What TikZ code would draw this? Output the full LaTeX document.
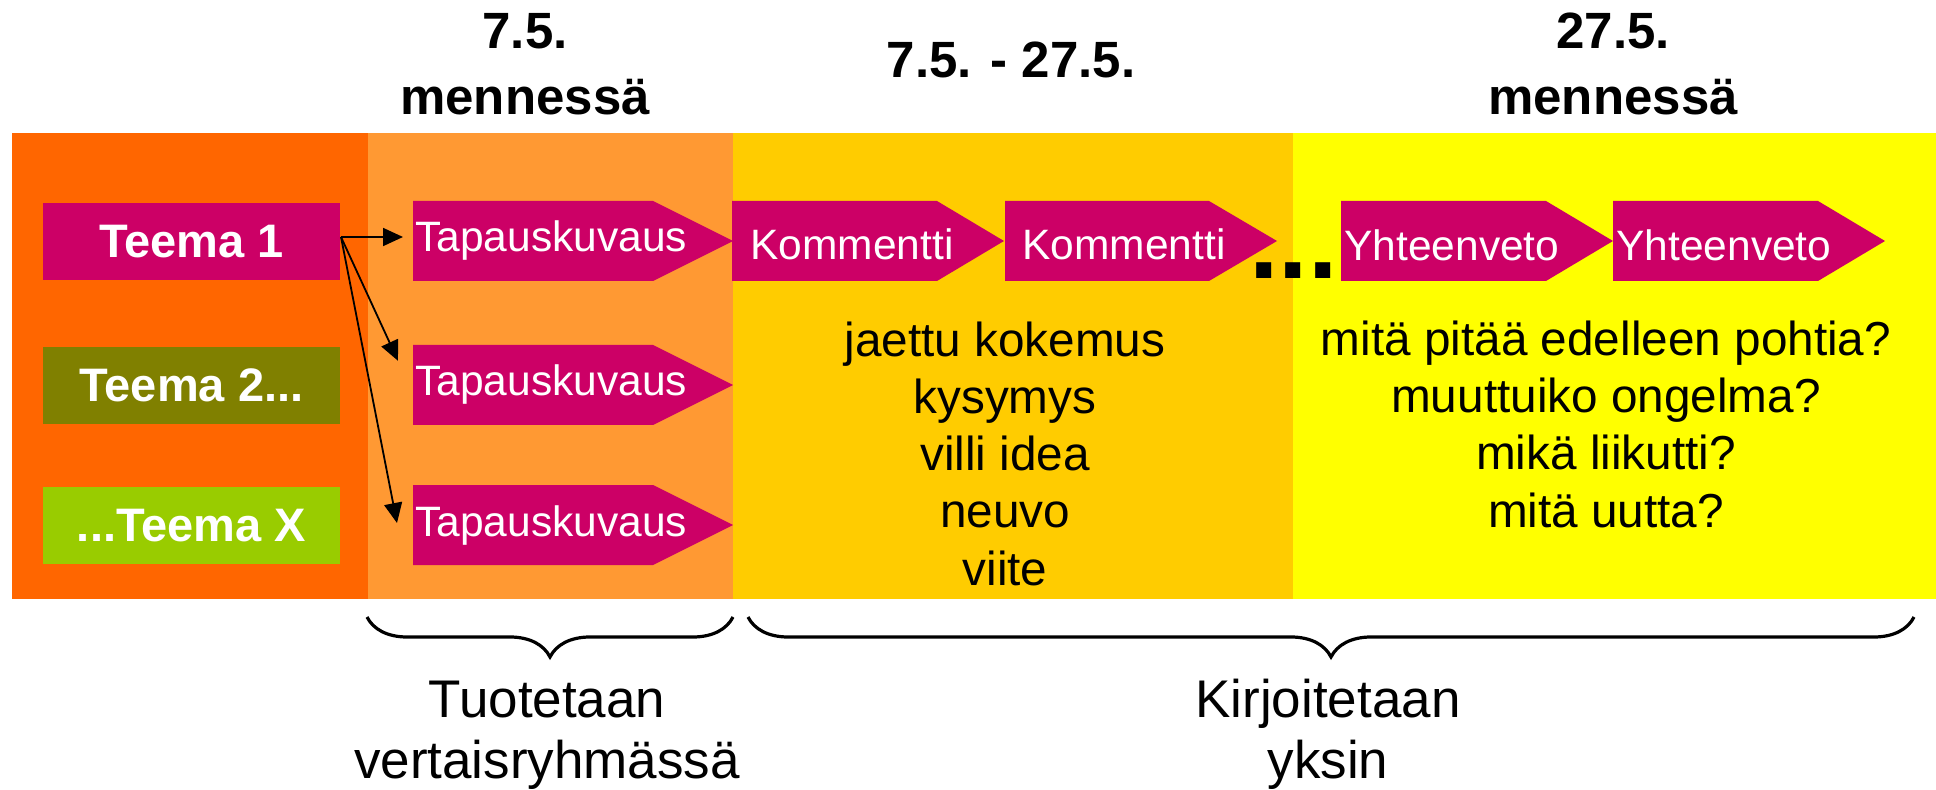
\documentclass[tikz,border=0pt]{standalone}
\usepackage{fontspec}
\setmainfont{Liberation Sans}
\usetikzlibrary{arrows.meta,calc,decorations.pathreplacing}

\definecolor{colA}{HTML}{FF6600}
\definecolor{colB}{HTML}{FF9933}
\definecolor{colC}{HTML}{FFCC00}
\definecolor{colD}{HTML}{FFFF00}
\definecolor{tagred}{HTML}{CC0066}
\definecolor{olivebox}{HTML}{808000}
\definecolor{limebox}{HTML}{99CC00}

\begin{document}
\begin{tikzpicture}[x=0.5pt,y=-0.5pt,
  >={Triangle[length=10pt,width=9pt]},
  teema/.style={minimum width=148.5pt,minimum height=38.5pt,inner sep=0,text=white,
    font=\fontsize{23.5}{28}\selectfont\bfseries},
  tag/.style={anchor=base west,inner sep=0,text=white,font=\fontsize{21.25}{25}\selectfont},
  head/.style={anchor=base,inner sep=0,align=center,font=\fontsize{25.5}{33}\selectfont\bfseries},
  body/.style={anchor=base,inner sep=0,align=center,font=\fontsize{23.85}{28.6}\selectfont},
  foot/.style={anchor=base,inner sep=0,align=center,font=\fontsize{26.5}{30.5}\selectfont},
  curly/.style={decorate,decoration={brace,mirror,amplitude=20pt},line width=1.6pt}]
\useasboundingbox (0,0) rectangle (1936,790);
\fill[white] (0,0) rectangle (1936,790);

% time columns
\fill[colA] (12,133) rectangle (368,599);
\fill[colB] (368,133) rectangle (733,599);
\fill[colC] (733,133) rectangle (1293,599);
\fill[colD] (1293,133) rectangle (1936,599);

% base = last line
\node[head] (h1) at (525,115) {7.5.\\mennessä};
\node[head] (h2) at (1011,78) {7.5. - 27.5.};
\node[head] (h3) at (1613,115) {27.5.\\mennessä};

\node[teema,fill=tagred] (t1) at (191.5,241.5) {Teema 1};
\node[teema,fill=olivebox] (t2) at (191.5,385.5) {Teema 2...};
\node[teema,fill=limebox] (tx) at (191.5,525.5) {...Teema X};

% arrow tags
\fill[tagred] (413,201) -- (653,201) -- (733,241) -- (653,281) -- (413,281) -- cycle;
\fill[tagred] (413,345) -- (653,345) -- (733,385) -- (653,425) -- (413,425) -- cycle;
\fill[tagred] (413,485) -- (653,485) -- (733,525) -- (653,565) -- (413,565) -- cycle;
\fill[tagred] (732,201) -- (937,201) -- (1004,241) -- (937,281) -- (732,281) -- cycle;
\fill[tagred] (1005,201) -- (1209,201) -- (1277,241) -- (1209,281) -- (1005,281) -- cycle;
\fill[tagred] (1341,201) -- (1546,201) -- (1613,241) -- (1546,281) -- (1341,281) -- cycle;
\fill[tagred] (1613,201) -- (1818,201) -- (1885,241) -- (1818,281) -- (1613,281) -- cycle;

\node[tag] (tap1) at (415,252) {Tapauskuvaus};
\node[tag] (tap2) at (415,396) {Tapauskuvaus};
\node[tag] (tap3) at (415,536) {Tapauskuvaus};
\node[tag] (kom1) at (750,260) {Kommentti};
\node[tag] (kom2) at (1022,260) {Kommentti};
\node[tag] (yht1) at (1344,261) {Yhteenveto};
\node[tag] (yht2) at (1616,261) {Yhteenveto};
\node[anchor=base west,inner sep=0,font=\fontsize{53}{53}\selectfont\bfseries] (dots) at (1249,279) {...};

\coordinate (fork) at (341,237);
\draw[->,line width=0.9pt] (fork) -- ($(fork -| tap1.west)+(-12,0)$);
\draw[->,line width=0.9pt] (fork) -- ($(tap2.north west)+(-17,-4)$);
\draw[->,line width=0.9pt] (fork) -- ($(tap3.west)+(-18,-2)$);

\node[body] (kinds) at (1005,585) {jaettu kokemus\\kysymys\\villi idea\\neuvo\\viite};
\node[body] (asks) at (1606,527) {mitä pitää edelleen pohtia?\\muuttuiko ongelma?\\mikä liikutti?\\mitä uutta?};

\draw[curly] (367,617) -- (733,617);
\draw[curly] (748,617) -- (1914,617);
\node[foot] (peer) at (547,778) {Tuotetaan\\vertaisryhmässä};
\node[foot] (alone) at (1328,778) {Kirjoitetaan\\yksin};
\end{tikzpicture}
\end{document}
